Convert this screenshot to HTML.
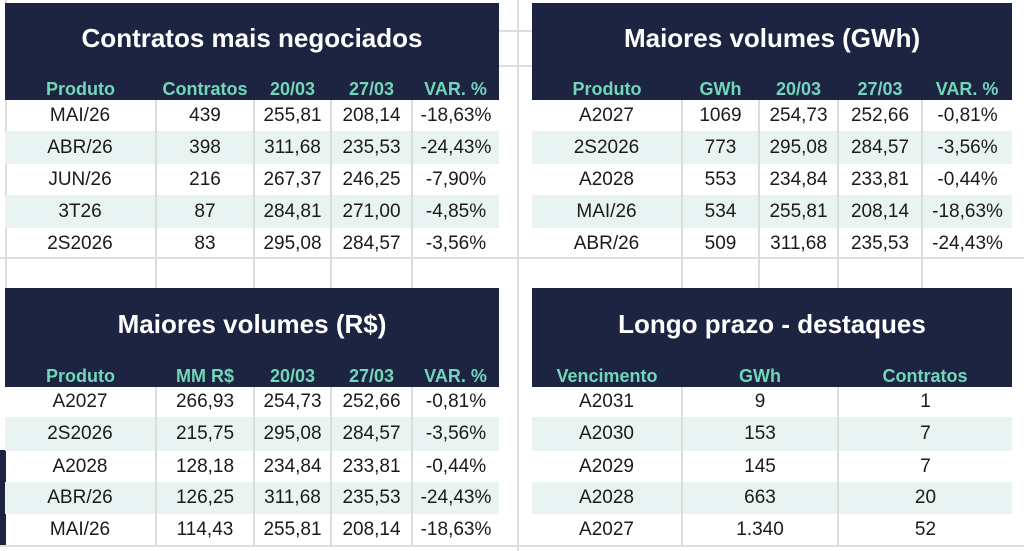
<!DOCTYPE html>
<html><head><meta charset="utf-8"><style>
body{margin:0;width:1024px;height:551px;background:#fff;position:relative;overflow:hidden;font-family:"Liberation Sans",Arial,sans-serif}
.gl{position:absolute;background:#dedede}
table{position:absolute;border-collapse:collapse;table-layout:fixed}
td{padding:0;text-align:center;font-size:19px;color:#1a1a1a;border-left:2px solid #dcdcdc;white-space:nowrap;overflow:hidden}
td:first-child{border-left:none}
tr.t td{background:#1d2442;color:#fff;font-weight:bold;font-size:26px;height:67px;border:none;padding-top:2px}
tr.h td{background:#1d2442;color:#72d6b9;font-weight:bold;font-size:18px;height:28px;border:none;vertical-align:bottom;padding-bottom:0}
tr.s td{background:#e9f3f1}
</style></head><body>
<div class="gl" style="left:517px;top:0;width:2px;height:551px"></div>
<div class="gl" style="left:499px;top:30px;width:33px;height:2px"></div>
<div class="gl" style="left:499px;top:65px;width:33px;height:2px"></div>
<div class="gl" style="left:0;top:257px;width:1024px;height:2px"></div>
<div class="gl" style="left:0;top:545px;width:1024px;height:2px"></div>
<div class="gl" style="left:5px;top:0;width:2px;height:288px"></div>
<div style="position:absolute;left:0;top:450px;width:6px;height:95px;background:#1d2442"></div>

<table style="left:5px;top:3px;width:494px">
<colgroup><col style="width:151px"><col style="width:98px"><col style="width:77px"><col style="width:81px"><col style="width:87px"></colgroup>
<tr class="t"><td colspan="5">Contratos mais negociados</td></tr>
<tr class="h"><td>Produto</td><td>Contratos</td><td>20/03</td><td>27/03</td><td>VAR. %</td></tr>
<tr style="height:31px"><td>MAI/26</td><td>439</td><td>255,81</td><td>208,14</td><td>-18,63%</td></tr>
<tr class="s" style="height:33px"><td>ABR/26</td><td>398</td><td>311,68</td><td>235,53</td><td>-24,43%</td></tr>
<tr style="height:31px"><td>JUN/26</td><td>216</td><td>267,37</td><td>246,25</td><td>-7,90%</td></tr>
<tr class="s" style="height:33px"><td>3T26</td><td>87</td><td>284,81</td><td>271,00</td><td>-4,85%</td></tr>
<tr style="height:31px"><td>2S2026</td><td>83</td><td>295,08</td><td>284,57</td><td>-3,56%</td></tr>
<tr style="height:31px"><td></td><td></td><td></td><td></td><td></td></tr>
</table>

<table style="left:532px;top:3px;width:480px">
<colgroup><col style="width:150px"><col style="width:77px"><col style="width:79px"><col style="width:84px"><col style="width:90px"></colgroup>
<tr class="t"><td colspan="5">Maiores volumes (GWh)</td></tr>
<tr class="h"><td>Produto</td><td>GWh</td><td>20/03</td><td>27/03</td><td>VAR. %</td></tr>
<tr style="height:31px"><td>A2027</td><td>1069</td><td>254,73</td><td>252,66</td><td>-0,81%</td></tr>
<tr class="s" style="height:33px"><td>2S2026</td><td>773</td><td>295,08</td><td>284,57</td><td>-3,56%</td></tr>
<tr style="height:31px"><td>A2028</td><td>553</td><td>234,84</td><td>233,81</td><td>-0,44%</td></tr>
<tr class="s" style="height:33px"><td>MAI/26</td><td>534</td><td>255,81</td><td>208,14</td><td>-18,63%</td></tr>
<tr style="height:31px"><td>ABR/26</td><td>509</td><td>311,68</td><td>235,53</td><td>-24,43%</td></tr>
<tr style="height:31px"><td></td><td></td><td></td><td></td><td></td></tr>
</table>

<table style="left:5px;top:288px;width:494px">
<colgroup><col style="width:151px"><col style="width:98px"><col style="width:77px"><col style="width:81px"><col style="width:87px"></colgroup>
<tr class="t"><td colspan="5" style="height:69px">Maiores volumes (R$)</td></tr>
<tr class="h"><td>Produto</td><td>MM R$</td><td>20/03</td><td>27/03</td><td>VAR. %</td></tr>
<tr style="height:30px"><td>A2027</td><td>266,93</td><td>254,73</td><td>252,66</td><td>-0,81%</td></tr>
<tr class="s" style="height:34px"><td>2S2026</td><td>215,75</td><td>295,08</td><td>284,57</td><td>-3,56%</td></tr>
<tr style="height:31px"><td>A2028</td><td>128,18</td><td>234,84</td><td>233,81</td><td>-0,44%</td></tr>
<tr class="s" style="height:32px"><td>ABR/26</td><td>126,25</td><td>311,68</td><td>235,53</td><td>-24,43%</td></tr>
<tr style="height:32px"><td>MAI/26</td><td>114,43</td><td>255,81</td><td>208,14</td><td>-18,63%</td></tr>
</table>

<table style="left:532px;top:288px;width:480px">
<colgroup><col style="width:150px"><col style="width:156px"><col style="width:174px"></colgroup>
<tr class="t"><td colspan="3" style="height:69px">Longo prazo - destaques</td></tr>
<tr class="h"><td>Vencimento</td><td>GWh</td><td>Contratos</td></tr>
<tr style="height:30px"><td>A2031</td><td>9</td><td>1</td></tr>
<tr class="s" style="height:34px"><td>A2030</td><td>153</td><td>7</td></tr>
<tr style="height:31px"><td>A2029</td><td>145</td><td>7</td></tr>
<tr class="s" style="height:32px"><td>A2028</td><td>663</td><td>20</td></tr>
<tr style="height:32px"><td>A2027</td><td>1.340</td><td>52</td></tr>
</table>
</body></html>
